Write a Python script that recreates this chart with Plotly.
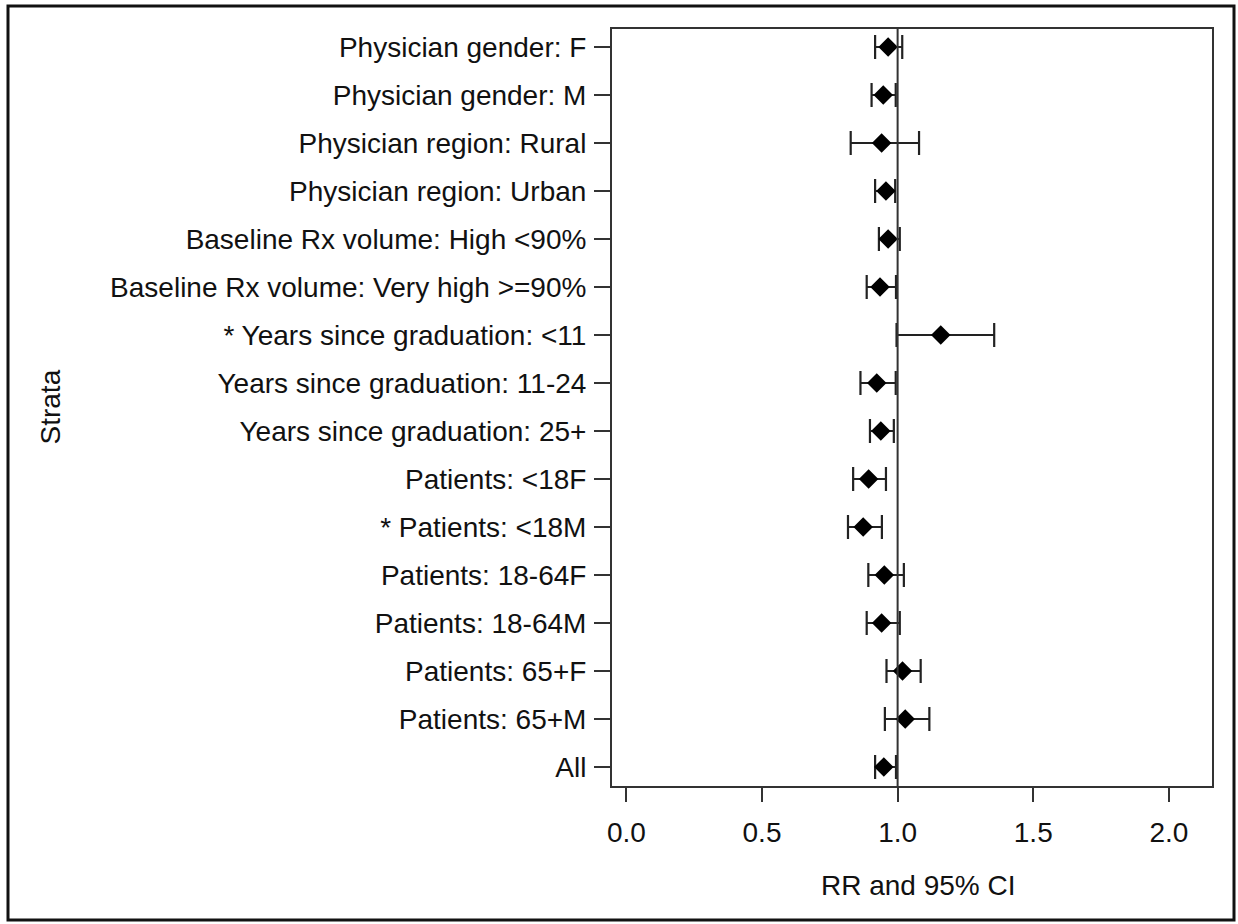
import plotly.graph_objects as go

strata = [
    "Physician gender: F",
    "Physician gender: M",
    "Physician region: Rural",
    "Physician region: Urban",
    "Baseline Rx volume: High <90%",
    "Baseline Rx volume: Very high >=90%",
    "* Years since graduation: <11",
    "Years since graduation: 11-24",
    "Years since graduation: 25+",
    "Patients: <18F",
    "* Patients: <18M",
    "Patients: 18-64F",
    "Patients: 18-64M",
    "Patients: 65+F",
    "Patients: 65+M",
    "All",
]
rr = [0.965, 0.947, 0.941, 0.957, 0.965, 0.935, 1.159, 0.923, 0.938,
      0.893, 0.873, 0.951, 0.941, 1.018, 1.028, 0.949]
ci_low = [0.917, 0.904, 0.827, 0.917, 0.931, 0.886, 0.996, 0.863, 0.898,
          0.836, 0.817, 0.892, 0.886, 0.959, 0.953, 0.917]
ci_high = [1.017, 0.993, 1.079, 0.991, 1.008, 0.994, 1.356, 0.993, 0.986,
           0.957, 0.942, 1.023, 1.008, 1.085, 1.117, 0.994]
x_ticks = [0.0, 0.5, 1.0, 1.5, 2.0]
x_ticktext = ["0.0", "0.5", "1.0", "1.5", "2.0"]

pos = list(range(len(strata)))
err_plus = [h - v for h, v in zip(ci_high, rr)]
err_minus = [v - l for v, l in zip(rr, ci_low)]

FONT = "Liberation Sans, Arial, sans-serif"
AX = "#333333"

fig = go.Figure()
fig.add_trace(go.Scatter(
    x=rr, y=pos, mode="markers",
    marker=dict(symbol="diamond", size=15, color="black"),
    error_x=dict(type="data", symmetric=False, array=err_plus,
                 arrayminus=err_minus, color="#222222", thickness=2.2, width=12),
    showlegend=False,
))

W, H = 1238, 924
L, R, T, B = 612, 26, 29, 138
pw, ph = W - L - R, H - T - B

def px(x):
    return (x - L) / pw

def py(y):
    return (H - B - y) / ph

shapes = [
    dict(type="line", xref="x", yref="paper", x0=1.0, x1=1.0, y0=0, y1=1,
         line=dict(color=AX, width=2)),
    dict(type="rect", xref="paper", yref="paper",
         x0=px(8), x1=px(1234), y0=py(920), y1=py(6),
         line=dict(color="#111111", width=3), layer="below"),
]

fig.update_layout(
    width=W, height=H,
    margin=dict(l=L, r=R, t=T, b=B),
    paper_bgcolor="white", plot_bgcolor="white",
    font=dict(family=FONT, size=28, color="#111111"),
    shapes=shapes,
    annotations=[
        dict(text="Strata", xref="paper", yref="paper", x=px(50), y=0.5,
             textangle=-90, showarrow=False, xanchor="center", yanchor="middle",
             font=dict(size=28)),
        dict(text="RR and 95% CI", xref="paper", yref="paper", x=px(918),
             y=py(885), showarrow=False, xanchor="center", yanchor="middle",
             font=dict(size=28)),
    ],
)
fig.update_xaxes(
    range=[-0.053, 2.159], tickvals=x_ticks, ticktext=x_ticktext,
    ticks="outside", ticklen=14, tickwidth=2, tickcolor=AX,
    showline=True, linecolor=AX, linewidth=2, mirror=True,
    showgrid=False, zeroline=False, ticklabelstandoff=6,
)
fig.update_yaxes(
    range=[15.396, -0.375], tickvals=pos, ticktext=strata,
    ticks="outside", ticklen=16, tickwidth=2, tickcolor=AX,
    showline=True, linecolor=AX, linewidth=2, mirror=True,
    showgrid=False, zeroline=False, ticklabelstandoff=2,
)

fig.write_html("out.html")
